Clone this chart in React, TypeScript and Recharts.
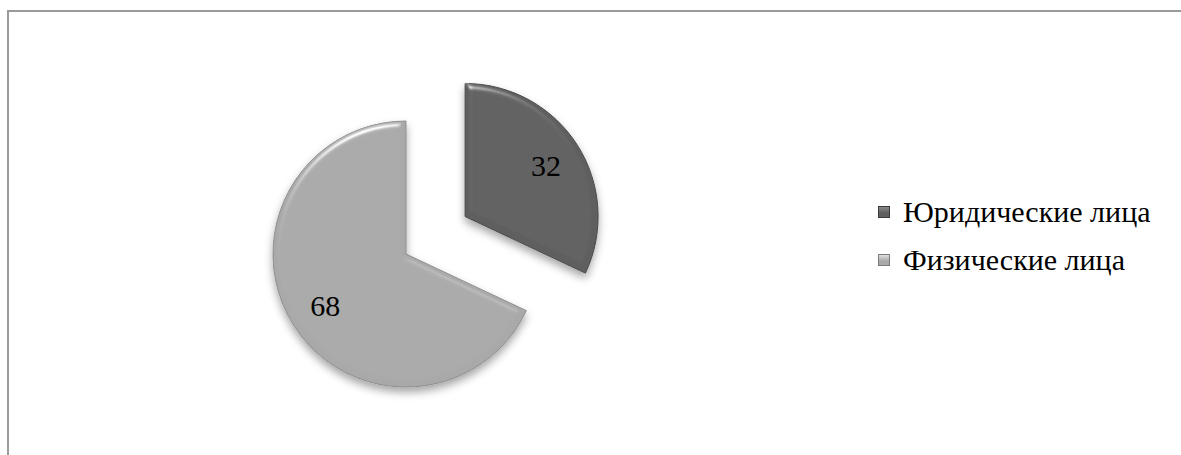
import { PieChart, Pie, Cell, Legend } from 'recharts';

const categories = ['Юридические лица', 'Физические лица'];
const values = [32, 68];
const colors = ['#5f5f5f', '#a9a9a9'];

const data = categories.map((name, i) => ({ name, value: values[i] }));

const FONT = "'Liberation Serif', 'DejaVu Serif', 'Times New Roman', serif";
const RAD = Math.PI / 180;

const CX = 406;
const CY = 254;
const R = 133;
const EXPLODE = 70;
const START = 90;

// the first slice is pulled out along its middle angle
const total = values.reduce((a, b) => a + b, 0);
const firstMid = START - (360 * values[0]) / total / 2;
const exCx = CX + EXPLODE * Math.cos(firstMid * RAD);
const exCy = CY - EXPLODE * Math.sin(firstMid * RAD);

const makeLabel = (only: number) => (props: any) => {
  const { cx, cy, midAngle, outerRadius, index, value } = props;
  if (index !== only) return null;
  const r = outerRadius * 0.72;
  const x = cx + r * Math.cos(-midAngle * RAD);
  const y = cy + r * Math.sin(-midAngle * RAD);
  return (
    <text x={x} y={y} textAnchor="middle" dominantBaseline="central" fill="#000" fontSize={30} fontFamily={FONT}>
      {value}
    </text>
  );
};

const LegendContent = () => (
  <div style={{ fontFamily: FONT, fontSize: 30, color: '#000', lineHeight: 1 }}>
    {categories.map((name, i) => (
      <div key={name} style={{ display: 'flex', alignItems: 'center', height: 48 }}>
        <span
          style={{
            display: 'inline-block',
            width: 10,
            height: 10,
            marginRight: 13,
            background: `linear-gradient(180deg, ${i === 0 ? '#8a8a8a' : '#e0e0e0'} 0%, ${colors[i]} 60%)`,
            border: `1px solid ${i === 0 ? '#3c3c3c' : '#7a7a7a'}`,
          }}
        />
        <span>{name}</span>
      </div>
    ))}
  </div>
);

export default function App() {
  return (
    <div style={{ position: 'absolute', left: 0, top: 0, width: 1181, height: 455, overflow: 'hidden', background: '#fff' }}>
      <div
        style={{
          position: 'absolute',
          left: 7,
          top: 10,
          width: 1300,
          height: 600,
          borderTop: '2px solid #9a9a9a',
          borderLeft: '2px solid #9a9a9a',
        }}
      />
      <div style={{ position: 'absolute', left: 0, top: 0 }}>
        <PieChart width={1181} height={455} margin={{ top: 0, right: 0, bottom: 0, left: 0 }}>
          <defs>
            <filter id="bevel" x="-20%" y="-20%" width="140%" height="150%">
              <feGaussianBlur in="SourceAlpha" stdDeviation="3" result="blur" />
              <feSpecularLighting in="blur" surfaceScale="4" specularConstant="0.6" specularExponent="40" lightingColor="#ffffff" result="spec">
                <feDistantLight azimuth="250" elevation="40" />
              </feSpecularLighting>
              <feComposite in="spec" in2="SourceAlpha" operator="in" result="specOut" />
              <feComposite in="SourceGraphic" in2="specOut" operator="arithmetic" k1="0" k2="1" k3="1" k4="0" result="lit" />
              <feDropShadow in="lit" dx="0" dy="5" stdDeviation="4" floodColor="#000" floodOpacity="0.35" />
            </filter>
          </defs>
          <Pie
            data={data}
            dataKey="value"
            nameKey="name"
            cx={CX}
            cy={CY}
            outerRadius={R}
            startAngle={START}
            endAngle={START - 360}
            isAnimationActive={false}
            label={makeLabel(1)}
            labelLine={false}
            legendType="none"
            style={{ filter: 'url(#bevel)' }}
          >
            <Cell fill="none" stroke="none" />
            <Cell fill={colors[1]} stroke="#8e8e8e" strokeWidth={1} />
          </Pie>
          <Pie
            data={data}
            dataKey="value"
            nameKey="name"
            cx={exCx}
            cy={exCy}
            outerRadius={R}
            startAngle={START}
            endAngle={START - 360}
            isAnimationActive={false}
            label={makeLabel(0)}
            labelLine={false}
            legendType="none"
            style={{ filter: 'url(#bevel)' }}
          >
            <Cell fill={colors[0]} stroke="#4a4a4a" strokeWidth={1} />
            <Cell fill="none" stroke="none" />
          </Pie>
          <Legend
            content={<LegendContent />}
            layout="vertical"
            align="right"
            verticalAlign="top"
            wrapperStyle={{ left: 878, top: 188, width: 300 }}
          />
        </PieChart>
      </div>
    </div>
  );
}
